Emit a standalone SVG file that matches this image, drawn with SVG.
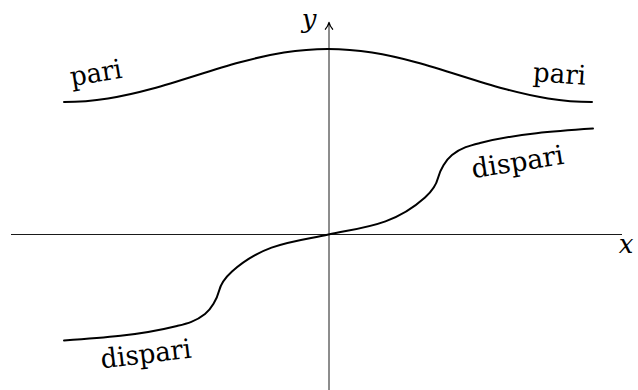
<svg xmlns="http://www.w3.org/2000/svg" width="638" height="390" viewBox="0 0 638 390">
<style>
.axis{stroke:#000;stroke-width:0.9;fill:none}
.arrow{stroke:#000;stroke-width:1.3;fill:none;stroke-linecap:round;stroke-linejoin:round}
.curve{stroke:#000;stroke-width:2;fill:none;stroke-linecap:round;stroke-linejoin:round}
.lbl{font-family:"DejaVu Serif","Liberation Serif",serif;font-size:27px;fill:#000}
.var{font-family:"DejaVu Serif","Liberation Serif",serif;font-size:26px;font-style:italic;fill:#000}
</style>
<rect width="638" height="390" fill="#fff"/>
<g id="axes">
<line class="axis" x1="11" y1="234.5" x2="622" y2="234.5"/>
<line class="axis" x1="329" y1="390" x2="329" y2="23"/>
<path class="arrow" d="M325.4,29.2 C326.9,27.4 328.4,25 329,22.4 C329.6,25 331.1,27.4 332.6,29.2"/>
<text class="var" x="309" y="28" text-anchor="middle">y</text>
<text class="var" x="626" y="253" text-anchor="middle">x</text>
</g>
<g id="even-curve">
<path class="curve" d="M64,102 C78.667,102 93.333,100.763 108,98.45 C122.667,96.138 137.333,92.755 152,88.75 C166.667,84.745 181.333,80.125 196,75.5 C210.667,70.875 225.333,66.255 240,62.25 C254.667,58.245 269.333,54.863 284,52.55 C298.667,50.238 313.333,49 328,49 C342.667,49 357.333,50.238 372,52.55 C386.667,54.863 401.333,58.245 416,62.25 C430.667,66.255 445.333,70.875 460,75.5 C474.667,80.125 489.333,84.745 504,88.75 C518.667,92.755 533.333,96.138 548,98.45 C562.667,100.763 577.333,102 592,102"/>
<text class="lbl" x="0" y="0" text-anchor="middle" textLength="52" lengthAdjust="spacingAndGlyphs" transform="translate(97.5 82) rotate(-9.5)">pari</text>
<text class="lbl" x="0" y="0" text-anchor="middle" textLength="53" lengthAdjust="spacingAndGlyphs" transform="translate(559 83) rotate(4)">pari</text>
</g>
<g id="odd-curve">
<path class="curve" d="M64,340.5 C101.7,338 139.3,335.4 177,326 C186.3,323.7 195.7,321.5 205,314 C211,309.2 217,299 219,291 C221,283 226,276.9 232,271.5 C264.2,242.5 296.3,241.6 328.5,234.5 C360.7,227.4 392.8,226.5 425,197.5 C431,192.1 436,186 438,178 C440,170 446,159.8 452,155 C461.3,147.5 470.7,145.3 480,143 C517.7,133.6 555.3,131 593,128.5"/>
<text class="lbl" x="0" y="0" text-anchor="middle" textLength="93" lengthAdjust="spacingAndGlyphs" transform="translate(519 171) rotate(-9)">dispari</text>
<text class="lbl" x="0" y="0" text-anchor="middle" textLength="91" lengthAdjust="spacingAndGlyphs" transform="translate(147 363) rotate(-7)">dispari</text>
</g>
</svg>
